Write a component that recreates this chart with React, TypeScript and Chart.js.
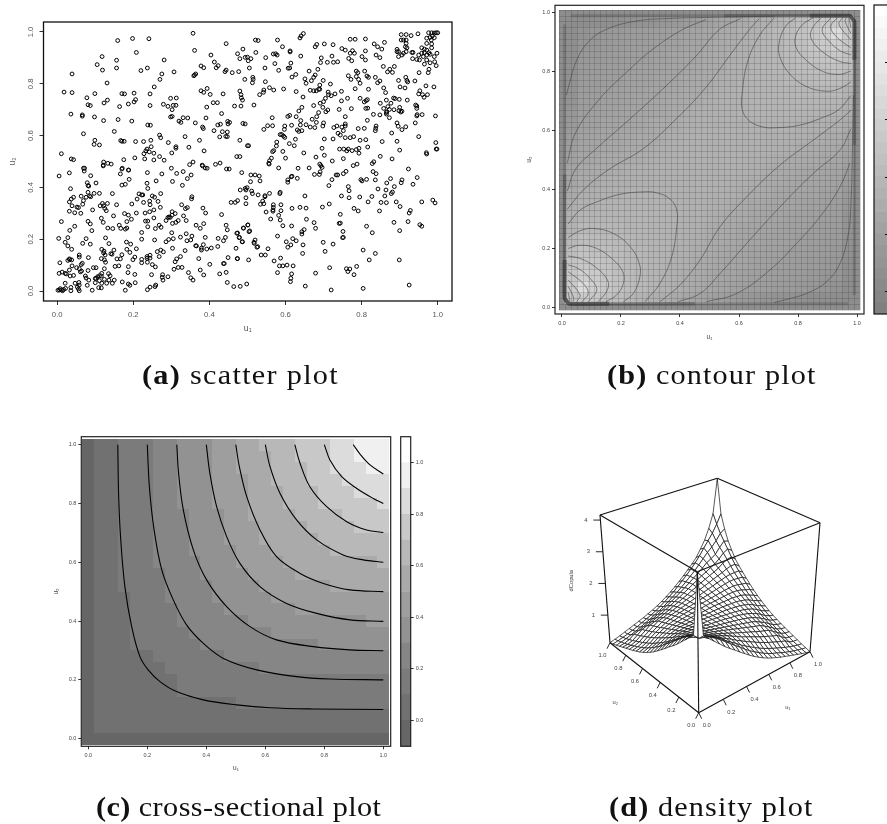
import React, { useEffect, useRef } from "react";
import { Chart, registerables } from "chart.js";

Chart.register(...registerables);

const PAGE_W = 887;
const PAGE_H = 824;
const SANS = "'Liberation Sans', Arial, sans-serif";
const SERIF = "'Liberation Serif', serif";

// ---------- (a) scatter plot: [u1, u2] ----------
const scatterPoints: number[][] = [
[.159,.967],[.198,.975],[.241,.974],[.357,.995],[.361,.929],[.444,.955],[.208,.921],[.118,.905],[.156,.891],[.105,.874],[.156,.861],[.119,.853],[.039,.838],[.281,.892],[.237,.861],[.220,.851],[.275,.838],[.270,.817],[.307,.846],[.131,.803],[.255,.788],[.018,.768],[.039,.766],[.099,.762],[.078,.746],[.132,.737],[.123,.726],[.170,.762],[.177,.761],[.202,.764],[.244,.761],[.206,.739],[.202,.730],[.187,.722],[.164,.712],[.081,.719],[.087,.716],[.244,.716],[.298,.744],[.313,.745],[.279,.721],[.291,.713],[.305,.717],[.312,.717],[.302,.700],[.036,.683],[.066,.680],[.066,.675],[.098,.672],[.122,.658],[.160,.662],[.196,.656],[.298,.672],[.302,.674],[.320,.656],[.325,.651],[.331,.669],[.343,.668],[.238,.641],[.245,.640],[.150,.616],[.069,.607],[.269,.602],[.272,.592],[.336,.596],[.099,.582],[.097,.566],[.111,.564],[.167,.581],[.170,.578],[.176,.578],[.206,.577],[.227,.577],[.246,.582],[.292,.573],[.312,.557],[.312,.551],[.346,.555],[.247,.557],[.236,.548],[.233,.541],[.242,.537],[.228,.530],[.254,.532],[.301,.533],[.011,.530],[.037,.510],[.043,.507],[.204,.514],[.175,.507],[.230,.510],[.254,.506],[.269,.519],[.281,.505],[.122,.498],[.121,.486],[.121,.483],[.133,.493],[.142,.490],[.072,.474],[.171,.474],[.187,.467],[.300,.474],[.348,.488],[.357,.498],[.381,.486],[.382,.483],[.389,.475],[.394,.474],[.416,.489],[.428,.494],[.445,.471],[.452,.471],
[.378,.869],[.385,.862],[.404,.911],[.413,.884],[.423,.870],[.418,.862],[.444,.853],[.441,.847],[.460,.843],[.477,.847],[.474,.916],[.488,.934],[.480,.897],[.494,.902],[.500,.903],[.502,.889],[.505,.861],[.493,.817],[.359,.831],[.361,.834],[.364,.838],[.378,.773],[.385,.767],[.394,.782],[.402,.759],[.436,.761],[.480,.772],[.483,.758],[.484,.746],[.487,.737],[.393,.710],[.410,.727],[.421,.727],[.466,.714],[.483,.714],[.432,.685],[.391,.668],[.363,.649],[.382,.633],[.384,.627],[.422,.641],[.429,.644],[.448,.655],[.453,.651],[.449,.645],[.488,.647],[.494,.645],[.412,.619],[.434,.615],[.447,.614],[.427,.595],[.443,.597],[.447,.596],[.374,.582],[.480,.582],[.503,.561],[.386,.541],[.472,.519],
[.647,.994],[.641,.985],[.638,.977],[.521,.969],[.528,.967],[.579,.969],[.592,.943],[.522,.921],[.568,.915],[.574,.916],[.578,.911],[.612,.927],[.612,.923],[.640,.907],[.509,.897],[.548,.901],[.572,.878],[.614,.880],[.546,.861],[.582,.852],[.607,.860],[.611,.861],[.627,.836],[.617,.826],[.514,.825],[.515,.817],[.513,.804],[.547,.808],[.651,.819],[.654,.802],[.662,.849],[.685,.856],[.678,.834],[.674,.825],[.668,.812],[.699,.813],[.718,.799],[.690,.795],[.687,.779],[.665,.775],[.674,.773],[.681,.773],[.690,.779],[.558,.785],[.569,.776],[.543,.776],[.542,.767],[.532,.758],[.595,.780],[.628,.770],[.646,.749],[.517,.718],[.712,.768],[.713,.758],[.705,.744],[.720,.754],[.730,.761],[.747,.771],[.747,.734],[.763,.744],[.796,.744],[.815,.739],[.807,.730],[.812,.735],[.783,.781],[.818,.779],[.694,.900],[.692,.882],[.710,.883],[.726,.883],[.737,.885],[.722,.907],[.682,.952],[.678,.943],[.702,.954],[.725,.951],[.748,.936],[.757,.930],[.770,.972],[.783,.972],[.810,.973],[.833,.954],[.842,.943],[.853,.934],[.860,.960],[.776,.928],[.781,.918],[.770,.918],[.766,.898],[.774,.889],[.801,.905],[.810,.892],[.810,.927],[.838,.911],[.848,.901],[.893,.933],[.897,.924],[.857,.867],[.874,.856],[.886,.867],[.868,.846],[.881,.844],[.786,.849],[.790,.843],[.808,.849],[.765,.831],[.772,.817],[.786,.828],[.792,.817],[.814,.830],[.818,.825],[.836,.825],[.848,.811],[.842,.804],[.796,.802],[.897,.813],[.916,.825],[.919,.813],[.921,.807],[.940,.811],[.901,.788],[.914,.784],[.969,.792],[.990,.788],[.858,.784],[.863,.766],[.953,.773],[.950,.761],[.960,.758],[.964,.748],[.973,.758],[.884,.745],[.888,.743],[.899,.740],[.920,.737],[.849,.725],[.865,.737],[.877,.725],[.869,.712],[.858,.705],[.873,.701],[.866,.692],[.865,.689],[.885,.700],[.900,.709],[.898,.696],[.906,.694],[.903,.691],[.831,.682],[.848,.680],[.865,.683],[.873,.669],[.942,.718],[.945,.714],[.945,.705],[.946,.681],[.959,.681],[.994,.676],[.945,.676],[.941,.649],[.811,.705],[.816,.706],[.773,.704],[.741,.701],[.757,.673],[.815,.659],[.674,.716],[.691,.725],[.700,.731],[.698,.709],[.711,.699],[.706,.692],[.643,.709],[.635,.695],[.628,.673],[.606,.674],[.611,.678],[.687,.689],[.682,.673],[.670,.663],[.640,.658],[.565,.669],[.681,.651],[.639,.641],[.654,.642],[.665,.633],[.677,.631],[.700,.649],[.698,.637],[.616,.640],[.598,.637],[.597,.624],[.566,.638],[.553,.638],[.543,.624],[.631,.622],[.635,.616],[.643,.619],[.727,.631],[.735,.637],[.748,.633],[.757,.645],[.757,.637],[.752,.619],[.791,.627],[.807,.628],[.838,.637],[.837,.628],[.836,.619],[.893,.649],[.896,.636],[.906,.623],[.916,.634],[.879,.610],[.950,.596],[.854,.577],[.893,.578],[.995,.573],[.998,.548],[.900,.544],[.590,.604],[.586,.604],[.595,.598],[.598,.593],[.738,.609],[.744,.602],[.757,.592],[.770,.592],[.779,.596],[.702,.587],[.725,.587],[.796,.582],[.811,.584],[.626,.586],[.610,.569],[.623,.561],[.577,.575],[.576,.560],[.569,.542],[.566,.538],[.593,.539],[.696,.551],[.742,.548],[.753,.548],[.761,.541],[.765,.548],[.775,.542],[.786,.546],[.793,.551],[.793,.532],[.816,.556],[.648,.533],[.702,.524],[.680,.517],[.970,.534],[.971,.529],[.849,.520],[.880,.510],[.752,.511],[.723,.502],[.832,.499],[.828,.492],[.778,.484],[.788,.490],[.690,.490],[.693,.484],[.696,.477],[.600,.513],[.563,.513],[.558,.503],[.556,.493],[.557,.490],
[.904,.990],[.917,.990],[.930,.986],[.948,.993],[.976,.997],[.984,.997],[.991,.996],[.996,.997],[1.0,.997],[.986,.985],[.980,.979],[.971,.976],[.983,.969],[.991,.978],[.904,.969],[.910,.969],[.917,.969],[.917,.956],[.915,.943],[.919,.939],[.910,.918],[.917,.924],[.932,.921],[.935,.921],[.971,.956],[.984,.954],[.958,.939],[.965,.934],[.971,.930],[.977,.920],[.984,.939],[.950,.911],[.958,.918],[.965,.920],[.980,.914],[.998,.918],[.991,.905],[.971,.911],[.962,.905],[.952,.892],[.934,.897],[.945,.894],[.965,.876],[.971,.892],[.980,.881],[.992,.885],[.996,.870],[.977,.856],[.975,.843],[.951,.843],[.897,.905],[.906,.911],[.893,.924],
[.005,.444],[.032,.456],[.035,.395],[.069,.474],[.071,.463],[.088,.445],[.102,.417],[.079,.418],[.081,.407],[.083,.405],[.081,.381],[.085,.367],[.097,.377],[.111,.377],[.063,.366],[.069,.349],[.067,.335],[.076,.362],[.088,.364],[.043,.362],[.037,.355],[.032,.344],[.039,.329],[.052,.324],[.056,.322],[.032,.308],[.046,.302],[.062,.300],[.093,.313],[.145,.376],[.156,.333],[.113,.329],[.119,.338],[.122,.329],[.132,.338],[.125,.319],[.129,.310],[.148,.290],[.116,.281],[.121,.265],[.011,.268],[.081,.269],[.087,.259],[.091,.233],[.046,.250],[.033,.234],[.133,.243],[.146,.241],[.163,.254],[.167,.242],[.179,.239],[.183,.268],[.195,.277],[.187,.293],[.177,.299],[.183,.243],[.208,.301],[.196,.336],[.166,.452],[.170,.471],[.188,.467],[.189,.431],[.170,.409],[.179,.412],[.237,.457],[.236,.416],[.238,.396],[.275,.452],[.260,.425],[.303,.423],[.314,.454],[.331,.461],[.329,.408],[.342,.434],[.352,.448],[.215,.375],[.222,.371],[.225,.371],[.210,.355],[.227,.342],[.250,.367],[.256,.362],[.272,.376],[.243,.347],[.265,.346],[.244,.333],[.271,.323],[.231,.301],[.243,.306],[.254,.313],[.254,.282],[.232,.270],[.238,.270],[.238,.248],[.302,.306],[.302,.293],[.297,.284],[.310,.299],[.286,.272],[.291,.284],[.294,.286],[.303,.261],[.312,.265],[.318,.272],[.258,.241],[.268,.254],[.273,.246],[.327,.333],[.337,.318],[.342,.322],[.332,.290],[.339,.272],[.354,.364],[.353,.356],[.301,.225],[.324,.208],[.339,.221],[.354,.212],[.341,.194],[.351,.197],[.222,.226],[.222,.200],[.256,.197],[.305,.202],[.293,.199],[.286,.190],[.303,.165],[.263,.152],[.272,.158],[.279,.151],[.268,.133],[.336,.156],[.324,.133],[.314,.124],[.310,.113],[.372,.125],[.376,.081],[.385,.062],[.345,.071],[.351,.051],[.357,.042],[.318,.091],[.328,.091],[.307,.084],[.365,.254],[.376,.242],[.385,.260],[.389,.207],[.384,.179],[.364,.175],[.366,.174],[.379,.165],[.379,.158],[.393,.162],[.405,.166],[.423,.203],[.422,.172],[.442,.207],[.437,.194],[.383,.320],[.390,.301],[.432,.295],[.444,.254],[.447,.236],[.474,.224],[.479,.207],[.486,.190],[.470,.165],[.474,.125],[.449,.129],[.437,.106],[.439,.106],[.401,.103],[.427,.066],[.444,.072],[.447,.033],[.464,.017],[.481,.018],[.498,.027],[.504,.229],[.489,.243],[.501,.255],[.503,.120],[.236,.126],[.236,.133],[.244,.138],[.244,.127],[.222,.122],[.222,.109],[.237,.111],[.250,.102],[.258,.093],[.248,.063],[.277,.063],[.276,.053],[.291,.055],[.278,.042],[.237,.005],[.244,.015],[.257,.017],[.259,.023],[.199,.121],[.204,.131],[.208,.163],[.182,.189],[.193,.181],[.183,.161],[.191,.149],[.170,.140],[.157,.124],[.166,.124],[.152,.095],[.162,.097],[.187,.094],[.186,.071],[.204,.064],[.205,.032],[.171,.035],[.179,.003],[.187,.027],[.191,.022],[.141,.144],[.144,.142],[.136,.183],[.127,.205],[.149,.158],[.117,.161],[.123,.154],[.122,.147],[.126,.139],[.116,.125],[.124,.120],[.127,.111],[.004,.203],[.028,.206],[.021,.188],[.028,.174],[.038,.161],[.067,.184],[.076,.202],[.087,.181],[.082,.129],[.058,.139],[.058,.131],[.007,.109],[.032,.124],[.028,.118],[.038,.120],[.033,.121],[.039,.097],[.066,.107],[.063,.102],[.051,.090],[.058,.086],[.061,.074],[.064,.077],[.081,.079],[.095,.090],[.102,.090],[.124,.086],[.005,.068],[.013,.073],[.021,.068],[.024,.066],[.032,.081],[.034,.058],[.043,.060],[.074,.058],[.076,.050],[.083,.042],[.100,.048],[.102,.049],[.106,.055],[.111,.059],[.117,.068],[.116,.058],[.135,.067],[.139,.059],[.150,.042],[.124,.045],[.111,.040],[.100,.032],[.136,.042],[.145,.030],[.021,.030],[.047,.030],[.057,.033],[.058,.023],[.053,.015],[.056,.008],[.058,.001],[.079,.022],[.092,.003],[.109,.013],[.116,.012],[.117,.030],[.130,.030],[.002,.003],[.006,.004],[.008,.009],[.011,.004],[.014,.001],[.017,.006],[.022,.010],[.036,.014],[.036,.001],
[.946,.438],[.935,.412],[.906,.429],[.904,.418],[.886,.403],[.881,.382],[.878,.376],[.876,.434],[.866,.417],[.861,.367],[.864,.390],[.843,.394],[.851,.342],[.865,.341],[.891,.344],[.901,.326],[.827,.365],[.817,.344],[.847,.309],[.780,.319],[.791,.309],[.795,.363],[.767,.360],[.767,.387],[.765,.403],[.747,.367],[.801,.425],[.798,.430],[.813,.431],[.836,.429],[.830,.461],[.838,.453],[.722,.430],[.714,.407],[.752,.453],[.759,.462],[.737,.448],[.733,.448],[.689,.450],[.691,.460],[.676,.450],[.606,.429],[.606,.420],[.617,.443],[.615,.441],[.631,.435],[.651,.367],[.586,.381],[.585,.376],[.558,.377],[.546,.368],[.509,.448],[.520,.448],[.531,.444],[.508,.422],[.533,.425],[.481,.390],[.494,.396],[.499,.399],[.496,.390],[.511,.386],[.513,.376],[.528,.371],[.485,.457],[.496,.360],[.546,.364],[.457,.342],[.468,.342],[.474,.349],[.496,.337],[.540,.347],[.534,.335],[.543,.337],[.568,.333],[.568,.323],[.567,.313],[.567,.308],[.588,.333],[.588,.310],[.549,.305],[.582,.292],[.586,.274],[.561,.278],[.593,.252],[.617,.319],[.638,.323],[.654,.320],[.655,.277],[.675,.264],[.679,.242],[.697,.324],[.715,.336],[.744,.296],[.741,.261],[.744,.262],[.616,.251],[.649,.237],[.643,.229],[.643,.220],[.751,.230],[.750,.206],[.752,.207],[.813,.250],[.828,.225],[.885,.265],[.922,.268],[.900,.233],[.953,.256],[.958,.250],[.925,.301],[.928,.311],[.958,.344],[.987,.351],[.993,.340],[.501,.255],[.490,.243],[.506,.232],[.472,.223],[.478,.206],[.487,.190],[.579,.212],[.602,.190],[.619,.202],[.628,.194],[.520,.197],[.517,.188],[.518,.184],[.527,.171],[.525,.169],[.554,.163],[.614,.178],[.606,.169],[.646,.178],[.645,.145],[.699,.188],[.725,.181],[.704,.153],[.536,.139],[.547,.139],[.473,.125],[.570,.116],[.587,.127],[.584,.097],[.593,.097],[.604,.100],[.620,.097],[.579,.071],[.616,.066],[.614,.049],[.613,.036],[.716,.090],[.760,.086],[.769,.085],[.764,.075],[.787,.095],[.780,.063],[.679,.069],[.804,.158],[.820,.120],[.836,.145],[.899,.120],[.652,.019],[.720,.004],[.804,.010],[.925,.023],[.923,.471],[.582,.475],[.633,.474],[.662,.475],[.500,.561],[.480,.519],[.996,.548]
];

const axisTicks = [0, 0.2, 0.4, 0.6, 0.8, 1];

// ---------- (b) contour plot ----------
// Shade levels (0-100): wedge of the symmetric square, rows from u2 = 0 upward.
const shadeWedge: number[][] = [
[55,58,56,52,48,44,40,38,36,33,30,28,26,24,22,20,18,16,15,14,13,12,12,11,10],
[72,62,56,52,48,45,42,39,37,34,32,30,28,27,25,24,23,22,21,20,19,17,15],
[58,54,50,47,44,42,39,37,35,33,31,29,28,26,25,24,23,22,21,20,18],
[52,49,46,44,42,40,38,36,34,32,30,29,28,26,25,24,23,22,21],
[47,45,43,42,40,38,37,35,33,31,30,28,27,26,25,24,23],
[44,42,41,40,39,37,36,34,32,31,29,28,27,26,25],
[42,41,40,39,38,37,35,33,32,30,29,28,27],
[41,40,39,38,38,36,35,33,32,30,29],
[40,39,38,38,37,36,35,33,31],
[38,38,38,38,37,36,34],
[38,38,38,38,37],
[38,38,38],
[38],
];
const contourBandEdges = [0.3,0.4,0.5,0.6,0.7,0.8,0.9,1,1.1,1.2,1.3,1.4,1.5,1.6,1.7,1.8,1.9,2,2.1,2.2,2.3,2.4,2.5,2.6,2.7,2.8,2.9,3];
const contourBarTicks = [0.5, 1, 1.5, 2, 2.5];

const contoursLowCorner: number[][][] = [
 [[.281,.018],[.332,.08],[.372,.171],[.389,.273],[.389,.329],[.366,.367],[.321,.388],[.276,.391],[.197,.383],[.118,.357],[.061,.329],[.021,.282]],
 [[.208,.018],[.242,.046],[.264,.103],[.262,.148],[.231,.205],[.174,.25],[.106,.267],[.061,.259],[.021,.236]],
 [[.149,.018],[.185,.041],[.208,.08],[.206,.12],[.174,.16],[.118,.199],[.061,.21],[.021,.199]],
 [[.123,.018],[.154,.058],[.154,.092],[.112,.137],[.061,.165],[.021,.173]],
 [[.089,.018],[.118,.058],[.095,.097],[.055,.131],[.021,.143]],
 [[.067,.018],[.089,.046],[.072,.08],[.021,.12]],
 [[.05,.018],[.061,.041],[.021,.092]],
 [[.037,.018],[.04,.03],[.021,.07]],
 [[.027,.018],[.021,.05]],
];
const contoursHighCorner: number[][][] = [
 [[.719,.982],[.668,.92],[.628,.829],[.611,.727],[.611,.671],[.634,.633],[.679,.612],[.724,.609],[.803,.617],[.882,.643],[.939,.671],[.979,.718]],
 [[.792,.982],[.758,.954],[.736,.897],[.738,.852],[.769,.795],[.826,.75],[.894,.733],[.939,.741],[.979,.764]],
 [[.851,.982],[.815,.959],[.792,.92],[.794,.88],[.826,.84],[.882,.801],[.939,.79],[.979,.801]],
 [[.877,.982],[.846,.942],[.846,.908],[.888,.863],[.939,.835],[.979,.827]],
 [[.911,.982],[.882,.942],[.905,.903],[.945,.869],[.979,.857]],
 [[.933,.982],[.911,.954],[.928,.92],[.979,.88]],
 [[.95,.982],[.939,.959],[.979,.908]],
 [[.963,.982],[.96,.97],[.979,.93]],
 [[.973,.982],[.979,.95]],
];
const contoursBelowDiagonal: number[][][] = [
 [[.332,.018],[.40,.075],[.468,.16],[.536,.273],[.626,.374],[.739,.482],[.852,.567],[.942,.635],[.98,.669]],
 [[.394,.018],[.468,.046],[.536,.114],[.626,.216],[.739,.34],[.852,.454],[.942,.533],[.98,.606]],
 [[.49,.018],[.592,.046],[.705,.126],[.795,.216],[.875,.307],[.942,.408],[.976,.488]],
 [[.72,.015],[.762,.026],[.829,.046],[.897,.086],[.942,.148],[.971,.25],[.98,.363],[.984,.51],[.988,.72]],
];
const contoursAboveDiagonal: number[][][] = [
 [[.018,.332],[.075,.40],[.16,.468],[.273,.536],[.374,.626],[.482,.739],[.567,.852],[.635,.942],[.669,.98]],
 [[.018,.394],[.046,.468],[.114,.536],[.216,.626],[.34,.739],[.454,.852],[.533,.942],[.606,.98]],
 [[.018,.49],[.046,.592],[.126,.705],[.216,.795],[.307,.875],[.408,.942],[.488,.976]],
 [[.015,.72],[.026,.762],[.046,.829],[.086,.897],[.148,.942],[.25,.971],[.363,.98],[.51,.984],[.72,.988]],
];
// where the contours crowd along the unit square's edges
const edgeBandLow = [[.009,.96],[.009,.6],[.009,.03],[.024,.011],[.6,.011],[.97,.011]];
const edgeBandLowInner = [[.009,.45],[.009,.03],[.024,.011],[.45,.011]];
const edgeBandLowCore = [[.009,.16],[.009,.03],[.024,.011],[.16,.011]];
const edgeBandHigh = [[.991,.04],[.991,.4],[.991,.97],[.976,.989],[.4,.989],[.03,.989]];
const edgeBandHighInner = [[.991,.55],[.991,.97],[.976,.989],[.55,.989]];
const edgeBandHighCore = [[.991,.84],[.991,.97],[.976,.989],[.84,.989]];

// ---------- (c) cross-sectional plot ----------
const crossLevels: number[][][] = [
 [[.1,1],[.103,.823],[.11,.676],[.124,.517],[.147,.381],[.175,.279],[.203,.234],[.243,.194],[.299,.16],[.39,.132],[.503,.115],[.616,.105],[.763,.101],[1,.099]],
 [[.2,1],[.207,.857],[.223,.71],[.249,.574],[.288,.472],[.333,.387],[.39,.324],[.458,.273],[.571,.234],[.706,.211],[.819,.203],[1,.2]],
 [[.3,1],[.306,.903],[.322,.778],[.356,.642],[.401,.54],[.469,.449],[.548,.381],[.638,.336],[.763,.313],[.887,.302],[1,.299]],
 [[.4,1],[.412,.903],[.435,.789],[.469,.687],[.514,.596],[.582,.517],[.672,.46],[.774,.426],[.887,.404],[1,.399]],
 [[.5,1],[.512,.925],[.537,.823],[.582,.71],[.638,.619],[.718,.562],[.797,.528],[.887,.506],[1,.5]],
 [[.6,1],[.616,.925],[.65,.834],[.706,.744],[.774,.676],[.864,.625],[.932,.608],[1,.6]],
 [[.7,1],[.718,.936],[.751,.857],[.808,.789],[.876,.738],[.943,.71],[1,.701]],
 [[.8,1],[.819,.948],[.859,.891],[.91,.851],[.966,.817],[1,.8]],
 [[.898,1],[.921,.968],[.955,.931],[1,.9]],
];
// for each colour band: first cell of every row (rows from u2 = 0 upward), null = band absent in that row
const N = null;
const bandStarts: (number | null)[][] = [
 [N,1,1,1,1,1,1,1,1,1,1,1,1,1,1,1,1,1,1,1,1,1,1,1,1,1],
 [N,N,N,13,8,8,7,6,4,4,4,4,4,3,3,3,3,3,3,3,3,3,3,3,3,3],
 [N,N,N,N,N,N,15,12,10,9,8,8,7,7,7,6,6,6,6,6,6,6,6,6,6,6],
 [N,N,N,N,N,N,N,N,20,16,14,12,11,11,10,10,9,9,9,9,8,8,8,8,8,8],
 [N,N,N,N,N,N,N,N,N,N,24,18,16,15,14,13,13,12,12,12,11,11,11,11,11,11],
 [N,N,N,N,N,N,N,N,N,N,N,N,N,21,18,17,16,15,15,14,14,14,14,13,13,13],
 [N,N,N,N,N,N,N,N,N,N,N,N,N,N,N,25,21,20,19,18,17,17,16,16,16,15],
 [N,N,N,N,N,N,N,N,N,N,N,N,N,N,N,N,N,N,23,22,20,20,19,19,18,18],
 [N,N,N,N,N,N,N,N,N,N,N,N,N,N,N,N,N,N,N,N,25,23,22,21,21,21],
 [N,N,N,N,N,N,N,N,N,N,N,N,N,N,N,N,N,N,N,N,N,N,N,24,23,23],
];
const crossBandEdges = [-0.1,0.001,0.1,0.2,0.3,0.4,0.5,0.6,0.7,0.8,0.9,1,1.1];
const crossBandShades = [102,113,123,134,146,158,170,184,200,220,240,255];
const crossBarTicks = [0, 0.2, 0.4, 0.6, 0.8, 1];

// ---------- (d) density plot ----------
// dCopula heights on a 25 x 25 wireframe, rows from the corner outward.
// Front half, around (u1,u2) = (0,0):
const heightFront: number[][] = [
[4.15,2.25,2.1,1.95,1.8,1.65,1.52,1.4,1.27,1.15,1.03,.92,.82,.73,.65,.58,.52,.46,.41,.36,.31,.26,.21,.17,.13],
[2.1,2.05,1.98,1.88,1.76,1.63,1.5,1.37,1.25,1.12,1.0,.9,.8,.71,.63,.56,.5,.44,.38,.33,.28,.24,.2],
[1.98,1.92,1.84,1.74,1.63,1.5,1.39,1.28,1.16,1.06,.96,.87,.78,.7,.63,.56,.5,.44,.38,.33,.28],
[1.82,1.76,1.68,1.6,1.5,1.41,1.32,1.22,1.13,1.04,.96,.88,.8,.73,.66,.6,.54,.48,.43],
[1.68,1.62,1.55,1.48,1.41,1.34,1.26,1.18,1.1,1.03,.96,.89,.82,.76,.7,.64,.59],
[1.56,1.51,1.45,1.39,1.33,1.27,1.2,1.14,1.08,1.02,.96,.9,.84,.79,.74],
[1.46,1.42,1.37,1.32,1.27,1.22,1.17,1.12,1.07,1.02,.97,.92,.88],
[1.38,1.34,1.3,1.26,1.22,1.18,1.14,1.1,1.06,1.02,.98],
[1.31,1.28,1.25,1.22,1.19,1.16,1.13,1.1,1.06],
[1.26,1.24,1.22,1.2,1.18,1.15,1.13],
[1.23,1.22,1.2,1.19,1.17],
[1.21,1.2,1.19],
[1.2],
];
// Back half, around (u1,u2) = (1,1), as seen behind the saddle:
const heightBack: number[][] = [
[4.15,3.0,2.55,2.2,1.95,1.72,1.56,1.42,1.28,1.15,1.03,.92,.82,.73,.65,.58,.52,.46,.41,.36,.31,.26,.21,.17,.13],
[2.7,2.45,2.25,2.05,1.85,1.67,1.52,1.38,1.25,1.12,1.0,.9,.8,.71,.63,.56,.5,.44,.38,.33,.28,.24,.2],
[2.25,2.1,1.97,1.82,1.67,1.52,1.4,1.28,1.16,1.06,.96,.87,.78,.7,.63,.56,.5,.44,.38,.33,.28],
[1.92,1.83,1.75,1.63,1.52,1.42,1.32,1.22,1.13,1.04,.96,.88,.8,.73,.66,.6,.54,.48,.43],
[1.72,1.65,1.57,1.5,1.42,1.34,1.26,1.18,1.1,1.03,.96,.89,.82,.76,.7,.64,.59],
[1.58,1.52,1.46,1.4,1.33,1.27,1.2,1.14,1.08,1.02,.96,.9,.84,.79,.74],
[1.47,1.42,1.37,1.32,1.27,1.22,1.17,1.12,1.07,1.02,.97,.92,.88],
[1.38,1.34,1.3,1.26,1.22,1.18,1.14,1.1,1.06,1.02,.98],
[1.31,1.28,1.25,1.22,1.19,1.16,1.13,1.1,1.06],
[1.26,1.24,1.22,1.2,1.18,1.15,1.13],
[1.23,1.22,1.2,1.19,1.17],
[1.21,1.2,1.19],
[1.2],
];
const wireTicks = [0, 0.2, 0.4, 0.6, 0.8, 1];
const heightTicks = [1, 2, 3, 4];
const Z_MIN = 0.13;
const Z_MAX = 4.16;

// wedge look-up for tables symmetric in u1<->u2; the far half reads its own wedge from (1,1)
function fromWedge(w: number[][], i: number, j: number, n: number, far: number[][] = w) {
  let a = i, b = j;
  if (b > a) [a, b] = [b, a];
  if (a + b > n) {
    [a, b] = [n - b, n - a];
    return far[b][a - b];
  }
  return w[b][a - b];
}

// ---------- box drawing plugins ----------
function boxPlugin(color: string, width: number, extraRight = 0) {
  return {
    id: "box",
    afterDraw(chart: any) {
      const { left, top, width: w, height: h } = chart.chartArea;
      const c = chart.ctx;
      c.save();
      c.strokeStyle = color;
      c.lineWidth = width;
      c.strokeRect(left, top, w + extraRight, h);
      c.restore();
    },
  };
}
const grey = (g: number) => `rgb(${g},${g},${g})`;

function unitAxis(kind: "x" | "y", range: number[], o: any) {
  return {
    type: "linear",
    position: kind === "x" ? "bottom" : "left",
    min: range[0],
    max: range[1],
    afterBuildTicks(s: any) {
      s.ticks = axisTicks.map((value) => ({ value }));
    },
    afterFit(s: any) {
      if (kind === "x") s.height = o.size;
      else s.width = o.size;
    },
    grid: { drawOnChartArea: false, tickLength: o.tick, color: "#333", lineWidth: 1 },
    border: { display: false },
    ticks: {
      color: o.color,
      font: { family: SANS, size: o.font },
      padding: o.pad,
      autoSkip: false,
      maxRotation: o.rot || 0,
      minRotation: o.rot || 0,
      crossAlign: o.rot ? "center" : "near",
      callback: (v: number) => v.toFixed(1),
    },
    title: {
      display: true,
      text: o.title,
      color: o.color,
      font: { family: SANS, size: o.font + 1 },
      padding: { top: 0, bottom: 0 },
    },
  };
}

const common = {
  responsive: false,
  animation: false,
  devicePixelRatio: 1,
  events: [],
};

const padFor = (box: number[], yw: number, xh: number) => ({
  left: box[0] - yw,
  top: box[1],
  right: PAGE_W - box[2],
  bottom: PAGE_H - box[3] - xh,
});

// ---------- (a) ----------
function scatterConfig() {
  return {
    type: "scatter",
    data: {
      datasets: [
        {
          data: scatterPoints.map(([x, y]) => ({ x, y })),
          pointStyle: "circle",
          pointRadius: 1.9,
          pointBorderWidth: 1,
          pointBorderColor: "#000",
          pointBackgroundColor: "rgba(0,0,0,0)",
        },
      ],
    },
    options: {
      ...common,
      layout: { padding: padFor([43.5, 22, 452, 301], 36, 33) },
      plugins: { legend: { display: false }, tooltip: { enabled: false } },
      scales: {
        x: unitAxis("x", [-0.036, 1.0375], { size: 33, tick: 4, font: 7.7, pad: 5, color: "#555", title: "u₁" }),
        y: unitAxis("y", [-0.0386, 1.0386], { size: 36, tick: 4, font: 7.7, pad: 3, rot: 90, color: "#555", title: "u₂" }),
      },
    },
    plugins: [boxPlugin("#111", 1.3)],
  };
}

// ---------- (b) ----------
const shadeOf = (level: number) => Math.round(128 + 1.27 * level);
const contourHeatPlugin = {
  id: "heat",
  beforeDraw(chart: any) {
    const { x, y } = chart.scales;
    const c = chart.ctx;
    const px = (v: number) => Math.round(x.getPixelForValue(v));
    const py = (v: number) => Math.round(y.getPixelForValue(v));
    c.save();
    c.fillStyle = grey(shadeOf(10));
    c.fillRect(px(-0.01), py(1.01), px(1.01) - px(-0.01), py(-0.01) - py(1.01));
    const edge = (k: number) => 0.01 + (k * 0.98) / 25;
    for (let j = 0; j < 25; j++)
      for (let i = 0; i < 25; i++) {
        c.fillStyle = grey(shadeOf(fromWedge(shadeWedge, i, j, 24)));
        c.fillRect(px(edge(i)), py(edge(j + 1)), px(edge(i + 1)) - px(edge(i)), py(edge(j)) - py(edge(j + 1)));
      }
    c.strokeStyle = "rgba(50,50,50,0.2)";
    c.lineWidth = 1;
    for (let k = 0; k <= 51; k++) {
      const v = -0.01 + 0.02 * k;
      c.beginPath();
      c.moveTo(px(v) + 0.5, py(1.01));
      c.lineTo(px(v) + 0.5, py(-0.01));
      c.moveTo(px(-0.01), py(v) + 0.5);
      c.lineTo(px(1.01), py(v) + 0.5);
      c.stroke();
    }
    c.restore();
  },
};
const lineSet = (pts: number[][], color: string, width: number, tension = 0.4) => ({
  data: pts.map(([x, y]) => ({ x, y })),
  showLine: true,
  borderColor: color,
  borderWidth: width,
  pointRadius: 0,
  tension,
});
function contourConfig() {
  const thin = "rgba(70,70,70,0.72)";
  const curves = [...contoursLowCorner, ...contoursHighCorner, ...contoursBelowDiagonal, ...contoursAboveDiagonal];
  return {
    type: "scatter",
    data: {
      datasets: [
        lineSet(edgeBandLow, "rgba(70,70,70,0.3)", 3, 0.08),
        lineSet(edgeBandLowInner, "rgba(40,40,40,0.3)", 3.5, 0.08),
        lineSet(edgeBandLowCore, "rgba(20,20,20,0.45)", 4, 0.08),
        lineSet(edgeBandHigh, "rgba(70,70,70,0.3)", 3, 0.08),
        lineSet(edgeBandHighInner, "rgba(40,40,40,0.3)", 3.5, 0.08),
        lineSet(edgeBandHighCore, "rgba(20,20,20,0.45)", 4, 0.08),
        ...curves.map((p) => lineSet(p, thin, 0.85)),
      ],
    },
    options: {
      ...common,
      layout: { padding: padFor([555, 5, 864, 314], 30, 27) },
      plugins: { legend: { display: false }, tooltip: { enabled: false } },
      scales: {
        x: unitAxis("x", [-0.0237, 1.0237], { size: 27, tick: 3, font: 5.5, pad: 3, color: "#444", title: "u₁" }),
        y: unitAxis("y", [-0.0237, 1.0248], { size: 30, tick: 3, font: 5.5, pad: 2, color: "#444", title: "u₂" }),
      },
    },
    plugins: [contourHeatPlugin, boxPlugin("#222", 1.2)],
  };
}
function bandBars(edges: number[], shade: (i: number) => number) {
  return edges.slice(0, -1).map((lo, i) => ({
    data: [[lo, edges[i + 1]]],
    backgroundColor: grey(shade(i)),
    borderColor: grey(shade(i)),
    borderWidth: 0.5,
    borderSkipped: false,
    barPercentage: 1,
    categoryPercentage: 1,
    grouped: false,
  }));
}
function contourBarConfig() {
  return {
    type: "bar",
    data: {
      labels: [""],
      datasets: bandBars(contourBandEdges, (i) => Math.round(128 + (127 * i) / 26)),
    },
    options: {
      ...common,
      layout: { padding: { left: 874, right: 0, top: 5, bottom: PAGE_H - 314 } },
      plugins: { legend: { display: false }, tooltip: { enabled: false } },
      scales: {
        x: { display: false },
        y: { display: false, min: 0.3, max: 3 },
      },
    },
    plugins: [
      boxPlugin("#111", 1.2, 8),
      {
        id: "inTicks",
        afterDraw(chart: any) {
          const c = chart.ctx;
          const y = chart.scales.y;
          c.save();
          c.strokeStyle = "#111";
          c.lineWidth = 1;
          contourBarTicks.forEach((v) => {
            const p = Math.round(y.getPixelForValue(v)) + 0.5;
            c.beginPath();
            c.moveTo(885, p);
            c.lineTo(887, p);
            c.stroke();
          });
          c.restore();
        },
      },
    ],
  };
}

// ---------- (c) ----------
const crossHeatPlugin = {
  id: "crossHeat",
  beforeDraw(chart: any) {
    const { x, y } = chart.scales;
    const c = chart.ctx;
    const px = (v: number) => Math.round(x.getPixelForValue(v));
    const py = (v: number) => Math.round(y.getPixelForValue(v));
    c.save();
    c.fillStyle = grey(crossBandShades[0]);
    c.fillRect(px(-0.02), py(1.02), px(1.02) - px(-0.02), py(-0.02) - py(1.02));
    bandStarts.forEach((starts, b) => {
      c.fillStyle = grey(crossBandShades[b + 1]);
      starts.forEach((first, j) => {
        if (first === null) return;
        const lo = 0.04 * first - 0.02;
        const top = py(0.04 * j + 0.02);
        c.fillRect(px(lo), top, px(1.02) - px(lo), py(0.04 * j - 0.02) - top);
      });
    });
    c.restore();
  },
};
function crossConfig() {
  return {
    type: "scatter",
    data: { datasets: crossLevels.map((p) => lineSet(p, "#000", 1.1, 0.35)) },
    options: {
      ...common,
      layout: { padding: padFor([81.3, 436.7, 390.7, 746.3], 29, 26) },
      plugins: { legend: { display: false }, tooltip: { enabled: false } },
      scales: {
        x: unitAxis("x", [-0.0237, 1.025], { size: 26, tick: 3, font: 5.5, pad: 3, color: "#444", title: "u₁" }),
        y: unitAxis("y", [-0.026, 1.027], { size: 29, tick: 3, font: 5.5, pad: 2, color: "#444", title: "u₂" }),
      },
    },
    plugins: [crossHeatPlugin, boxPlugin("#222", 1.2)],
  };
}
function crossBarConfig() {
  return {
    type: "bar",
    data: { labels: [""], datasets: bandBars(crossBandEdges, (i) => crossBandShades[i]) },
    options: {
      ...common,
      layout: { padding: { left: 400.7, right: PAGE_W - 410.7 - 30, top: 436.7, bottom: PAGE_H - 746.3 } },
      plugins: { legend: { display: false }, tooltip: { enabled: false } },
      scales: {
        x: { display: false },
        y: {
          position: "right",
          min: -0.1,
          max: 1.1,
          afterBuildTicks(s: any) {
            s.ticks = crossBarTicks.map((value) => ({ value }));
          },
          afterFit(s: any) {
            s.width = 30;
          },
          grid: { drawOnChartArea: false, tickLength: 3, color: "#333" },
          border: { display: false },
          ticks: { color: "#444", font: { family: SANS, size: 5.5 }, padding: 2, callback: (v: number) => v.toFixed(1) },
        },
      },
    },
    plugins: [boxPlugin("#222", 1.2)],
  };
}

// ---------- (d) ----------
function homography(p0: number[], p1: number[], p2: number[], p3: number[]) {
  const dx1 = p1[0] - p2[0], dx2 = p3[0] - p2[0], sx = p0[0] - p1[0] + p2[0] - p3[0];
  const dy1 = p1[1] - p2[1], dy2 = p3[1] - p2[1], sy = p0[1] - p1[1] + p2[1] - p3[1];
  const det = dx1 * dy2 - dx2 * dy1;
  const g = (sx * dy2 - dx2 * sy) / det;
  const h = (dx1 * sy - sx * dy1) / det;
  const a = p1[0] - p0[0] + g * p1[0], b = p3[0] - p0[0] + h * p3[0];
  const d = p1[1] - p0[1] + g * p1[1], e = p3[1] - p0[1] + h * p3[1];
  return (u: number, v: number) => {
    const w = g * u + h * v + 1;
    return [(a * u + b * v + p0[0]) / w, (d * u + e * v + p0[1]) / w];
  };
}
// viewing transform of the persp box: floor and lid corners (u1,u2) = (0,0),(1,0),(1,1),(0,1)
const floorAt = homography([698.7, 712.7], [810, 651.7], [717.3, 596], [610, 642.7]);
const lidAt = homography([697.3, 571.7], [820, 522.7], [717.3, 478.3], [600, 515]);
function project(u1: number, u2: number, z: number) {
  const f = floorAt(u1, u2), l = lidAt(u1, u2);
  const t = (z - Z_MIN) / (Z_MAX - Z_MIN);
  return { x: f[0] + (l[0] - f[0]) * t, y: f[1] + (l[1] - f[1]) * t };
}
const edgeSet = (pts: any[], width: number, dash?: number[], color = "#111") => ({
  data: pts,
  showLine: true,
  borderColor: color,
  borderWidth: width,
  borderDash: dash || [],
  pointRadius: 0,
  tension: 0,
});
function densityConfig() {
  const n = 24;
  const front: any[] = [];
  const lo = Z_MIN, hi = Z_MAX;
  const P = project;
  // lid edges, visible verticals and floor front edges lie on top of the surface
  front.push(edgeSet([P(0, 0, hi), P(1, 0, hi)], 1.1));
  front.push(edgeSet([P(0, 0, hi), P(0, 1, hi)], 1.1));
  front.push(edgeSet([P(0, 0, lo), P(0, 0, hi)], 1.1));
  front.push(edgeSet([P(1, 0, lo), P(1, 0, hi)], 1.1));
  front.push(edgeSet([P(0, 1, lo), P(0, 1, hi)], 1.1));
  front.push(edgeSet([P(0, 0, lo), P(1, 0, lo)], 1.1));
  front.push(edgeSet([P(0, 0, lo), P(0, 1, lo)], 1.1));
  wireTicks.forEach((t) => {
    const a = P(t, 0, lo), b = P(0, t, lo);
    front.push(edgeSet([a, { x: a.x + 3, y: a.y + 6 }], 0.9));
    front.push(edgeSet([b, { x: b.x - 3, y: b.y + 6 }], 0.9));
  });
  heightTicks.forEach((z) => {
    const a = P(0, 1, z);
    front.push(edgeSet([a, { x: a.x - 7, y: a.y }], 0.9));
  });
  const facets: any[] = [];
  for (let s = 0; s <= 2 * n - 2; s++) {
    for (let i = 0; i < n; i++) {
      const j = s - i;
      if (j < 0 || j >= n) continue;
      const q = [
        [i, j],
        [i + 1, j],
        [i + 1, j + 1],
        [i, j + 1],
        [i, j],
      ].map(([a, b]) => P(a / n, b / n, fromWedge(heightFront, a, b, n, heightBack)));
      facets.push({
        data: q,
        showLine: true,
        fill: "shape",
        backgroundColor: "#fff",
        borderColor: "#111",
        borderWidth: 0.7,
        pointRadius: 0,
        tension: 0,
      });
    }
  }
  const back = [
    edgeSet([P(1, 1, hi), P(1, 0, hi)], 1.1),
    edgeSet([P(1, 1, hi), P(0, 1, hi)], 1.1),
    edgeSet([P(1, 1, lo), P(1, 1, hi)], 0.8, [1.5, 1.5]),
    edgeSet([P(1, 1, lo), P(1, 0, lo)], 0.8, [1.5, 1.5]),
    edgeSet([P(1, 1, lo), P(0, 1, lo)], 0.8, [1.5, 1.5]),
  ];
  return {
    type: "scatter",
    data: { datasets: [...front, ...facets, ...back] },
    options: {
      ...common,
      layout: { padding: 0 },
      plugins: { legend: { display: false }, tooltip: { enabled: false } },
      scales: {
        x: { display: false, min: 0, max: PAGE_W },
        y: { display: false, min: 0, max: PAGE_H, reverse: true },
      },
    },
    plugins: [
      {
        id: "perspLabels",
        afterDraw(chart: any) {
          const c = chart.ctx;
          const { x, y } = chart.scales;
          const put = (t: string, p: { x: number; y: number }, dx: number, dy: number) =>
            c.fillText(t, x.getPixelForValue(p.x) + dx, y.getPixelForValue(p.y) + dy);
          c.save();
          c.fillStyle = "#444";
          c.font = `5.8px ${SANS}`;
          c.textAlign = "center";
          c.textBaseline = "middle";
          wireTicks.forEach((t) => {
            put(t.toFixed(1), P(t, 0, lo), 8, 13);
            put(t.toFixed(1), P(0, t, lo), -7.5, 13);
          });
          heightTicks.forEach((z) => put(String(z), P(0, 1, z), -14.5, 0));
          put("u₁", P(0.5, 0, lo), 30, 27);
          put("u₂", P(0, 0.5, lo), -36, 27);
          c.translate(x.getPixelForValue(571.7), y.getPixelForValue(580.7));
          c.rotate(-Math.PI / 2);
          c.fillText("dCopula", 0, 0);
          c.restore();
        },
      },
    ],
  };
}

const builders = [scatterConfig, contourConfig, contourBarConfig, crossConfig, crossBarConfig, densityConfig];

function ChartLayer({ build }: { build: () => any }) {
  const ref = useRef<HTMLCanvasElement | null>(null);
  useEffect(() => {
    const chart = new Chart(ref.current as HTMLCanvasElement, build());
    return () => chart.destroy();
  }, [build]);
  return (
    <canvas
      ref={ref}
      width={PAGE_W}
      height={PAGE_H}
      style={{ position: "absolute", left: 0, top: 0, width: PAGE_W, height: PAGE_H }}
    />
  );
}

const captions = [
  { tag: "(a)", text: "scatter plot", left: 141.7, top: 375, spacing: 1.15 },
  { tag: "(b)", text: "contour plot", left: 607.3, top: 375, spacing: 1.0 },
  { tag: "(c)", text: "cross-sectional plot", left: 96, top: 807, spacing: 0.37 },
  { tag: "(d)", text: "density plot", left: 609, top: 807, spacing: 1.0 },
];

export default function App() {
  return (
    <div style={{ position: "absolute", left: 0, top: 0, width: PAGE_W, height: PAGE_H, overflow: "hidden", background: "#fff" }}>
      {builders.map((b, i) => (
        <ChartLayer key={i} build={b} />
      ))}
      {captions.map((c) => (
        <div
          key={c.tag}
          style={{
            position: "absolute",
            left: c.left,
            top: c.top,
            transform: "translateY(-50%) scaleX(1.12)",
            transformOrigin: "left center",
            fontFamily: SERIF,
            fontSize: 27,
            letterSpacing: c.spacing,
            whiteSpace: "nowrap",
            color: "#111",
          }}
        >
          <b>{c.tag}</b> {c.text}
        </div>
      ))}
    </div>
  );
}
